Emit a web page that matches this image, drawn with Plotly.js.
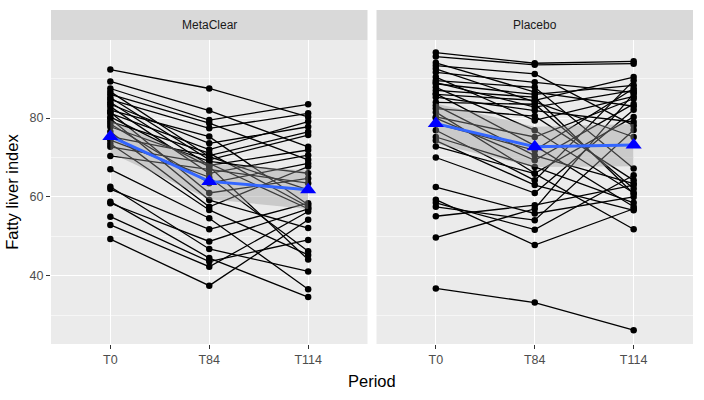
<!DOCTYPE html>
<html>
<head>
<meta charset="utf-8">
<script src="https://cdn.plot.ly/plotly-3.0.1.min.js"></script>
<style>html,body{margin:0;padding:0;background:#fff}#chart{width:704px;height:400px}</style>
</head>
<body>
<div id="chart"></div>
<script>
// Categories
const periods = ['T0', 'T84', 'T114'];
const groups = ['MetaClear', 'Placebo'];

// MetaClear subjects (same index = same subject)
const mcT0   = [92.3, 89.3, 87.5, 86.7, 86.0, 85.2, 84.7, 84.0, 83.5, 82.9, 82.0, 81.5, 81.2, 80.3, 79.8, 79.1,
                78.5, 77.8, 76.5, 75.3, 74.4, 73.5, 72.7, 70.4, 67.0, 62.6, 62.0, 58.8, 58.4, 55.0, 52.9, 49.3];
const mcT84  = [87.5, 81.9, 79.5, 70.2, 78.7, 69.4, 77.4, 68.0, 73.6, 66.0, 75.3, 61.0, 72.0, 67.7, 59.2, 71.1,
                63.5, 69.0, 57.5, 70.5, 65.0, 56.7, 68.5, 67.0, 54.6, 46.8, 51.8, 44.5, 48.7, 43.6, 42.3, 37.5];
const mcT114 = [80.3, 72.7, 83.5, 61.8, 69.4, 75.7, 81.2, 71.9, 77.8, 70.6, 58.0, 64.7, 79.1, 44.1, 52.1, 57.5,
                68.5, 66.0, 67.7, 76.5, 46.2, 45.3, 57.0, 63.5, 36.6, 41.1, 58.4, 34.6, 57.0, 49.1, 56.3, 54.2];

// Placebo subjects
const plT0   = [96.6, 95.6, 94.0, 93.3, 92.5, 91.6, 90.4, 89.5, 89.0, 88.7, 87.8, 87.0, 86.2, 86.0, 85.3, 84.0, 83.2,
                82.4, 81.5, 80.3, 80.0, 78.6, 76.9, 75.2, 74.3, 72.8, 70.0, 62.5, 59.3, 58.5, 57.5, 55.1, 49.7, 36.8];
const plT84  = [93.9, 93.5, 86.6, 91.2, 84.1, 89.1, 79.4, 87.8, 82.8, 86.0, 76.9, 85.3, 73.0, 84.5, 81.9, 83.5, 70.5,
                80.5, 66.0, 75.2, 69.3, 71.8, 64.2, 67.6, 63.0, 65.9, 61.0, 55.8, 47.8, 51.7, 54.1, 57.9, 57.0, 33.2];
const plT114 = [94.4, 93.8, 83.0, 78.1, 75.2, 86.5, 85.5, 67.2, 87.0, 88.3, 61.0, 60.8, 57.5, 90.4, 79.0, 62.1, 63.4,
                64.2, 80.3, 84.9, 83.6, 87.5, 89.5, 58.5, 56.6, 51.8, 82.1, 60.0, 57.0, 65.5, 77.0, 63.0, 86.2, 26.2];

const panels = [
  {name: groups[0], cols: [mcT0, mcT84, mcT114], xa: 'x',  ya: 'y'},
  {name: groups[1], cols: [plT0, plT84, plT114], xa: 'x2', ya: 'y2'}
];

function tq(df) { // approx 97.5% t quantile
  const z = 1.959964;
  return z + (z*z*z + z)/(4*df) + (5*Math.pow(z,5) + 16*z*z*z + 3*z)/(96*df*df);
}

const traces = [];
panels.forEach(p => {
  const xs = [], ys = [];
  const n = p.cols[0].length;
  for (let i = 0; i < n; i++) {
    for (let k = 0; k < periods.length; k++) { xs.push(periods[k]); ys.push(p.cols[k][i]); }
    xs.push(null); ys.push(null);
  }
  traces.push({type: 'scatter', mode: 'lines+markers', x: xs, y: ys, xaxis: p.xa, yaxis: p.ya,
    connectgaps: false, line: {color: '#000000', width: 1.3},
    marker: {color: '#000000', size: 6.5}, hoverinfo: 'skip', showlegend: false});
});

panels.forEach(p => {
  const means = [], lo = [], hi = [];
  p.cols.forEach(c => {
    const n = c.length;
    const m = c.reduce((a, b) => a + b, 0) / n;
    const sd = Math.sqrt(c.reduce((a, b) => a + (b - m) * (b - m), 0) / (n - 1));
    const h = tq(n - 1) * sd / Math.sqrt(n);
    means.push(m); lo.push(m - h); hi.push(m + h);
  });
  traces.push({type: 'scatter', mode: 'lines', x: periods, y: lo, xaxis: p.xa, yaxis: p.ya,
    line: {width: 0, color: 'rgba(0,0,0,0)'}, hoverinfo: 'skip', showlegend: false});
  traces.push({type: 'scatter', mode: 'lines', x: periods, y: hi, xaxis: p.xa, yaxis: p.ya,
    fill: 'tonexty', fillcolor: 'rgba(153,153,153,0.4)',
    line: {width: 0, color: 'rgba(0,0,0,0)'}, hoverinfo: 'skip', showlegend: false});
  traces.push({type: 'scatter', mode: 'lines', x: periods, y: means, xaxis: p.xa, yaxis: p.ya,
    line: {color: '#3366FF', width: 3}, showlegend: false});
  traces.push({type: 'scatter', mode: 'markers', x: periods, y: means, xaxis: p.xa, yaxis: p.ya,
    marker: {symbol: 'triangle-up', color: '#0000FF', size: 14}, showlegend: false});
});

const font = 'Liberation Sans, Arial, sans-serif';
const xCommon = {
  type: 'category', categoryorder: 'array', categoryarray: periods, range: [-0.6, 2.6],
  showgrid: true, gridcolor: '#ffffff', gridwidth: 1.1, zeroline: false, showline: false,
  ticks: 'outside', ticklen: 4, tickwidth: 1.1, tickcolor: '#333333',
  tickfont: {family: font, size: 12.5, color: '#4d4d4d'}, fixedrange: true
};
const yCommon = {
  range: [22.7, 99.8], tick0: 0, dtick: 20,
  showgrid: true, gridcolor: '#ffffff', gridwidth: 1.1, zeroline: false, showline: false,
  minor: {tick0: 0, dtick: 10, showgrid: true, gridcolor: '#ffffff', gridwidth: 0.55, ticks: ''},
  fixedrange: true
};

const d1 = [0, 0.493], d2 = [0.507, 1];
const stripTop = 1.0988;
const layout = {
  width: 704, height: 400,
  margin: {l: 51, r: 10.6, t: 40, b: 56.3, pad: 0},
  paper_bgcolor: '#ffffff', plot_bgcolor: '#ebebeb',
  font: {family: font, color: '#000000'},
  showlegend: false,
  xaxis: Object.assign({}, xCommon, {domain: d1, anchor: 'y'}),
  xaxis2: Object.assign({}, xCommon, {domain: d2, anchor: 'y2'}),
  yaxis: Object.assign({}, yCommon, {anchor: 'x', ticks: 'outside', ticklen: 4, tickwidth: 1.1, tickcolor: '#333333',
    tickfont: {family: font, size: 12.5, color: '#4d4d4d'}}),
  yaxis2: Object.assign({}, yCommon, {anchor: 'x2', matches: 'y', showticklabels: false, ticks: ''}),
  shapes: [
    {type: 'rect', xref: 'paper', yref: 'paper', x0: d1[0], x1: d1[1], y0: 1, y1: stripTop, fillcolor: '#d9d9d9', line: {width: 0}, layer: 'below'},
    {type: 'rect', xref: 'paper', yref: 'paper', x0: d2[0], x1: d2[1], y0: 1, y1: stripTop, fillcolor: '#d9d9d9', line: {width: 0}, layer: 'below'}
  ],
  annotations: [
    {text: groups[0], xref: 'paper', yref: 'paper', x: (d1[0]+d1[1])/2, y: (1+stripTop)/2, showarrow: false,
      xanchor: 'center', yanchor: 'middle', font: {family: font, size: 12, color: '#1a1a1a'}},
    {text: groups[1], xref: 'paper', yref: 'paper', x: (d2[0]+d2[1])/2, y: (1+stripTop)/2, showarrow: false,
      xanchor: 'center', yanchor: 'middle', font: {family: font, size: 12, color: '#1a1a1a'}},
    {text: 'Period', xref: 'paper', yref: 'paper', x: 0.5, y: -0.1228, showarrow: false,
      xanchor: 'center', yanchor: 'middle', font: {family: font, size: 16.5, color: '#000000'}},
    {text: 'Fatty liver index', xref: 'paper', yref: 'paper', x: -0.061, y: 0.5, showarrow: false, textangle: -90,
      xanchor: 'center', yanchor: 'middle', font: {family: font, size: 16.5, color: '#000000'}}
  ]
};

Plotly.newPlot('chart', traces, layout, {displayModeBar: false, staticPlot: true});
</script>
</body>
</html>
